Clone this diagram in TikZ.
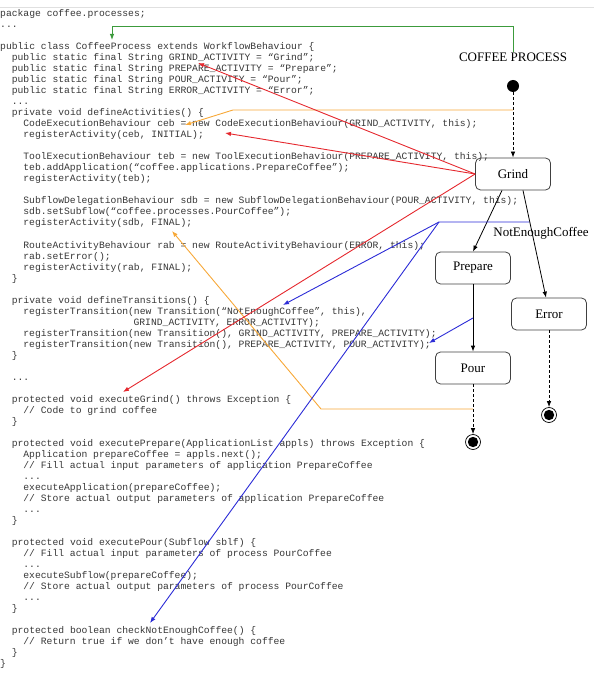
\documentclass[tikz,border=0pt]{standalone}
\usepackage{fontspec}
\setmainfont{Liberation Serif}
\newfontfamily\codefont{Liberation Mono}
\usetikzlibrary{arrows.meta}
\definecolor{cgreen}{RGB}{60,155,60}
\definecolor{corange}{RGB}{247,168,56}
\definecolor{cred}{RGB}{229,40,46}
\definecolor{cblue}{RGB}{43,43,214}
\definecolor{ctext}{RGB}{55,55,55}
\newcommand\cl[3]{\node[codeline] (c#1) at (#2*5.8, 17+11*#1) {#3};}
\begin{document}
\begin{tikzpicture}[x=1pt,y=-1pt,
  codeline/.style={anchor=base west,inner sep=0pt,text=ctext,font=\codefont\fontsize{9.7}{11}\selectfont},
  state/.style={draw=black!75,line width=0.8pt,rounded corners=5pt,minimum width=75pt,minimum height=32pt,inner sep=0pt,font=\fontsize{13}{15}\selectfont},
  lbl/.style={inner sep=0pt,font=\fontsize{13}{15}\selectfont},
  startst/.style={circle,fill=black,minimum size=12pt,inner sep=0pt},
  finst/.style={circle,draw=black,line width=0.7pt,minimum size=15pt,inner sep=0pt,path picture={\fill[black] (path picture bounding box.center) circle (5.2pt);}},
  tr/.style={draw=black,line width=0.8pt,-{Latex[length=6pt,width=4.5pt]}},
  dtr/.style={tr,dash pattern=on 3pt off 2pt},
  link/.style={line width=0.9pt,-{Latex[length=6pt,width=4.5pt]}}
]
\useasboundingbox (0,0) rectangle (594,684);
\draw[black!12,line width=0.8pt] (0,7.5) -- (594,7.5);

% code
\cl{0}{0}{package coffee.processes;}
\cl{1}{0}{...}
\cl{3}{0}{public class CoffeeProcess extends WorkflowBehaviour \{}
\cl{4}{2}{public static final String GRIND\_ACTIVITY = “Grind”;}
\cl{5}{2}{public static final String PREPARE\_ACTIVITY = “Prepare”;}
\cl{6}{2}{public static final String POUR\_ACTIVITY = “Pour”;}
\cl{7}{2}{public static final String ERROR\_ACTIVITY = “Error”;}
\cl{8}{2}{...}
\cl{9}{2}{private void defineActivities() \{}
\cl{10}{4}{CodeExecutionBehaviour ceb = new CodeExecutionBehaviour(GRIND\_ACTIVITY, this);}
\cl{11}{4}{registerActivity(ceb, INITIAL);}
\cl{13}{4}{ToolExecutionBehaviour teb = new ToolExecutionBehaviour(PREPARE\_ACTIVITY, this);}
\cl{14}{4}{teb.addApplication(“coffee.applications.PrepareCoffee”);}
\cl{15}{4}{registerActivity(teb);}
\cl{17}{4}{SubflowDelegationBehaviour sdb = new SubflowDelegationBehaviour(POUR\_ACTIVITY, this);}
\cl{18}{4}{sdb.setSubflow(“coffee.processes.PourCoffee”);}
\cl{19}{4}{registerActivity(sdb, FINAL);}
\cl{21}{4}{RouteActivityBehaviour rab = new RouteActivityBehaviour(ERROR, this);}
\cl{22}{4}{rab.setError();}
\cl{23}{4}{registerActivity(rab, FINAL);}
\cl{24}{2}{\}}
\cl{26}{2}{private void defineTransitions() \{}
\cl{27}{4}{registerTransition(new Transition(“NotEnoughCoffee”, this),}
\cl{28}{23}{GRIND\_ACTIVITY, ERROR\_ACTIVITY);}
\cl{29}{4}{registerTransition(new Transition(), GRIND\_ACTIVITY, PREPARE\_ACTIVITY);}
\cl{30}{4}{registerTransition(new Transition(), PREPARE\_ACTIVITY, POUR\_ACTIVITY);}
\cl{31}{2}{\}}
\cl{33}{2}{...}
\cl{35}{2}{protected void executeGrind() throws Exception \{}
\cl{36}{4}{// Code to grind coffee}
\cl{37}{2}{\}}
\cl{39}{2}{protected void executePrepare(ApplicationList appls) throws Exception \{}
\cl{40}{4}{Application prepareCoffee = appls.next();}
\cl{41}{4}{// Fill actual input parameters of application PrepareCoffee}
\cl{42}{4}{...}
\cl{43}{4}{executeApplication(prepareCoffee);}
\cl{44}{4}{// Store actual output parameters of application PrepareCoffee}
\cl{45}{4}{...}
\cl{46}{2}{\}}
\cl{48}{2}{protected void executePour(Subflow sblf) \{}
\cl{49}{4}{// Fill actual input parameters of process PourCoffee}
\cl{50}{4}{...}
\cl{51}{4}{executeSubflow(prepareCoffee);}
\cl{52}{4}{// Store actual output parameters of process PourCoffee}
\cl{53}{4}{...}
\cl{54}{2}{\}}
\cl{56}{2}{protected boolean checkNotEnoughCoffee() \{}
\cl{57}{4}{// Return true if we don’t have enough coffee}
\cl{58}{2}{\}}
\cl{59}{0}{\}}

% state diagram
\node[lbl] (title) at (513,57) {COFFEE PROCESS};
\node[startst] (init) at (513,86) {};
\node[state] (grind) at (513,174) {Grind};
\node[state] (prepare) at (473,268) {Prepare};
\node[state] (error) at (549,314) {Error};
\node[state] (pour) at (473,368) {Pour};
\node[finst] (fin1) at (473,442) {};
\node[finst] (fin2) at (549,415) {};
\node[lbl] (nec) at (541,233) {NotEnoughCoffee};

\draw[dtr] (init) -- (grind.north);
\draw[tr] ([xshift=-11pt]grind.south) -- (prepare.north);
\draw[tr] ([xshift=10pt]grind.south) -- ([xshift=-3pt]error.north);
\draw[tr] (prepare.south) -- (pour.north);
\draw[dtr] (pour.south) -- (fin1.north);
\draw[dtr] (error.south) -- (fin2.north);

% links
\coordinate (gcorner) at (112,26);
\coordinate (gtip) at (112,40);
\draw[link,cgreen] (title.north) |- (gcorner) -- (gtip);

\coordinate (o1s) at (513,110);
\coordinate (o1b) at (233,110);
\coordinate (o1t) at (185,125);
\draw[link,corange] (o1s) -- (o1b) -- (o1t);
\coordinate (o2s) at (473,409);
\coordinate (o2b) at (321,409);
\coordinate (o2t) at (172,231);
\draw[link,corange] (o2s) -- (o2b) -- (o2t);

\coordinate (r1) at (198,63);
\coordinate (r2) at (225,133);
\coordinate (r3) at (123,392);
\draw[link,cred] (grind.west) -- (r1);
\draw[link,cred] (grind.west) -- (r2);
\draw[link,cred] (grind.west) -- (r3);

\coordinate (b1s) at (529,222);
\coordinate (b1b) at (439,222);
\coordinate (b1t) at (283,305);
\coordinate (b2t) at (150,623);
\draw[link,cblue] (b1s) -- (b1b) -- (b1t);
\draw[link,cblue] (b1b) -- (b2t);
\coordinate (b3s) at (473,318);
\coordinate (b3t) at (429,343);
\draw[link,cblue] (b3s) -- (b3t);
\end{tikzpicture}
\end{document}
